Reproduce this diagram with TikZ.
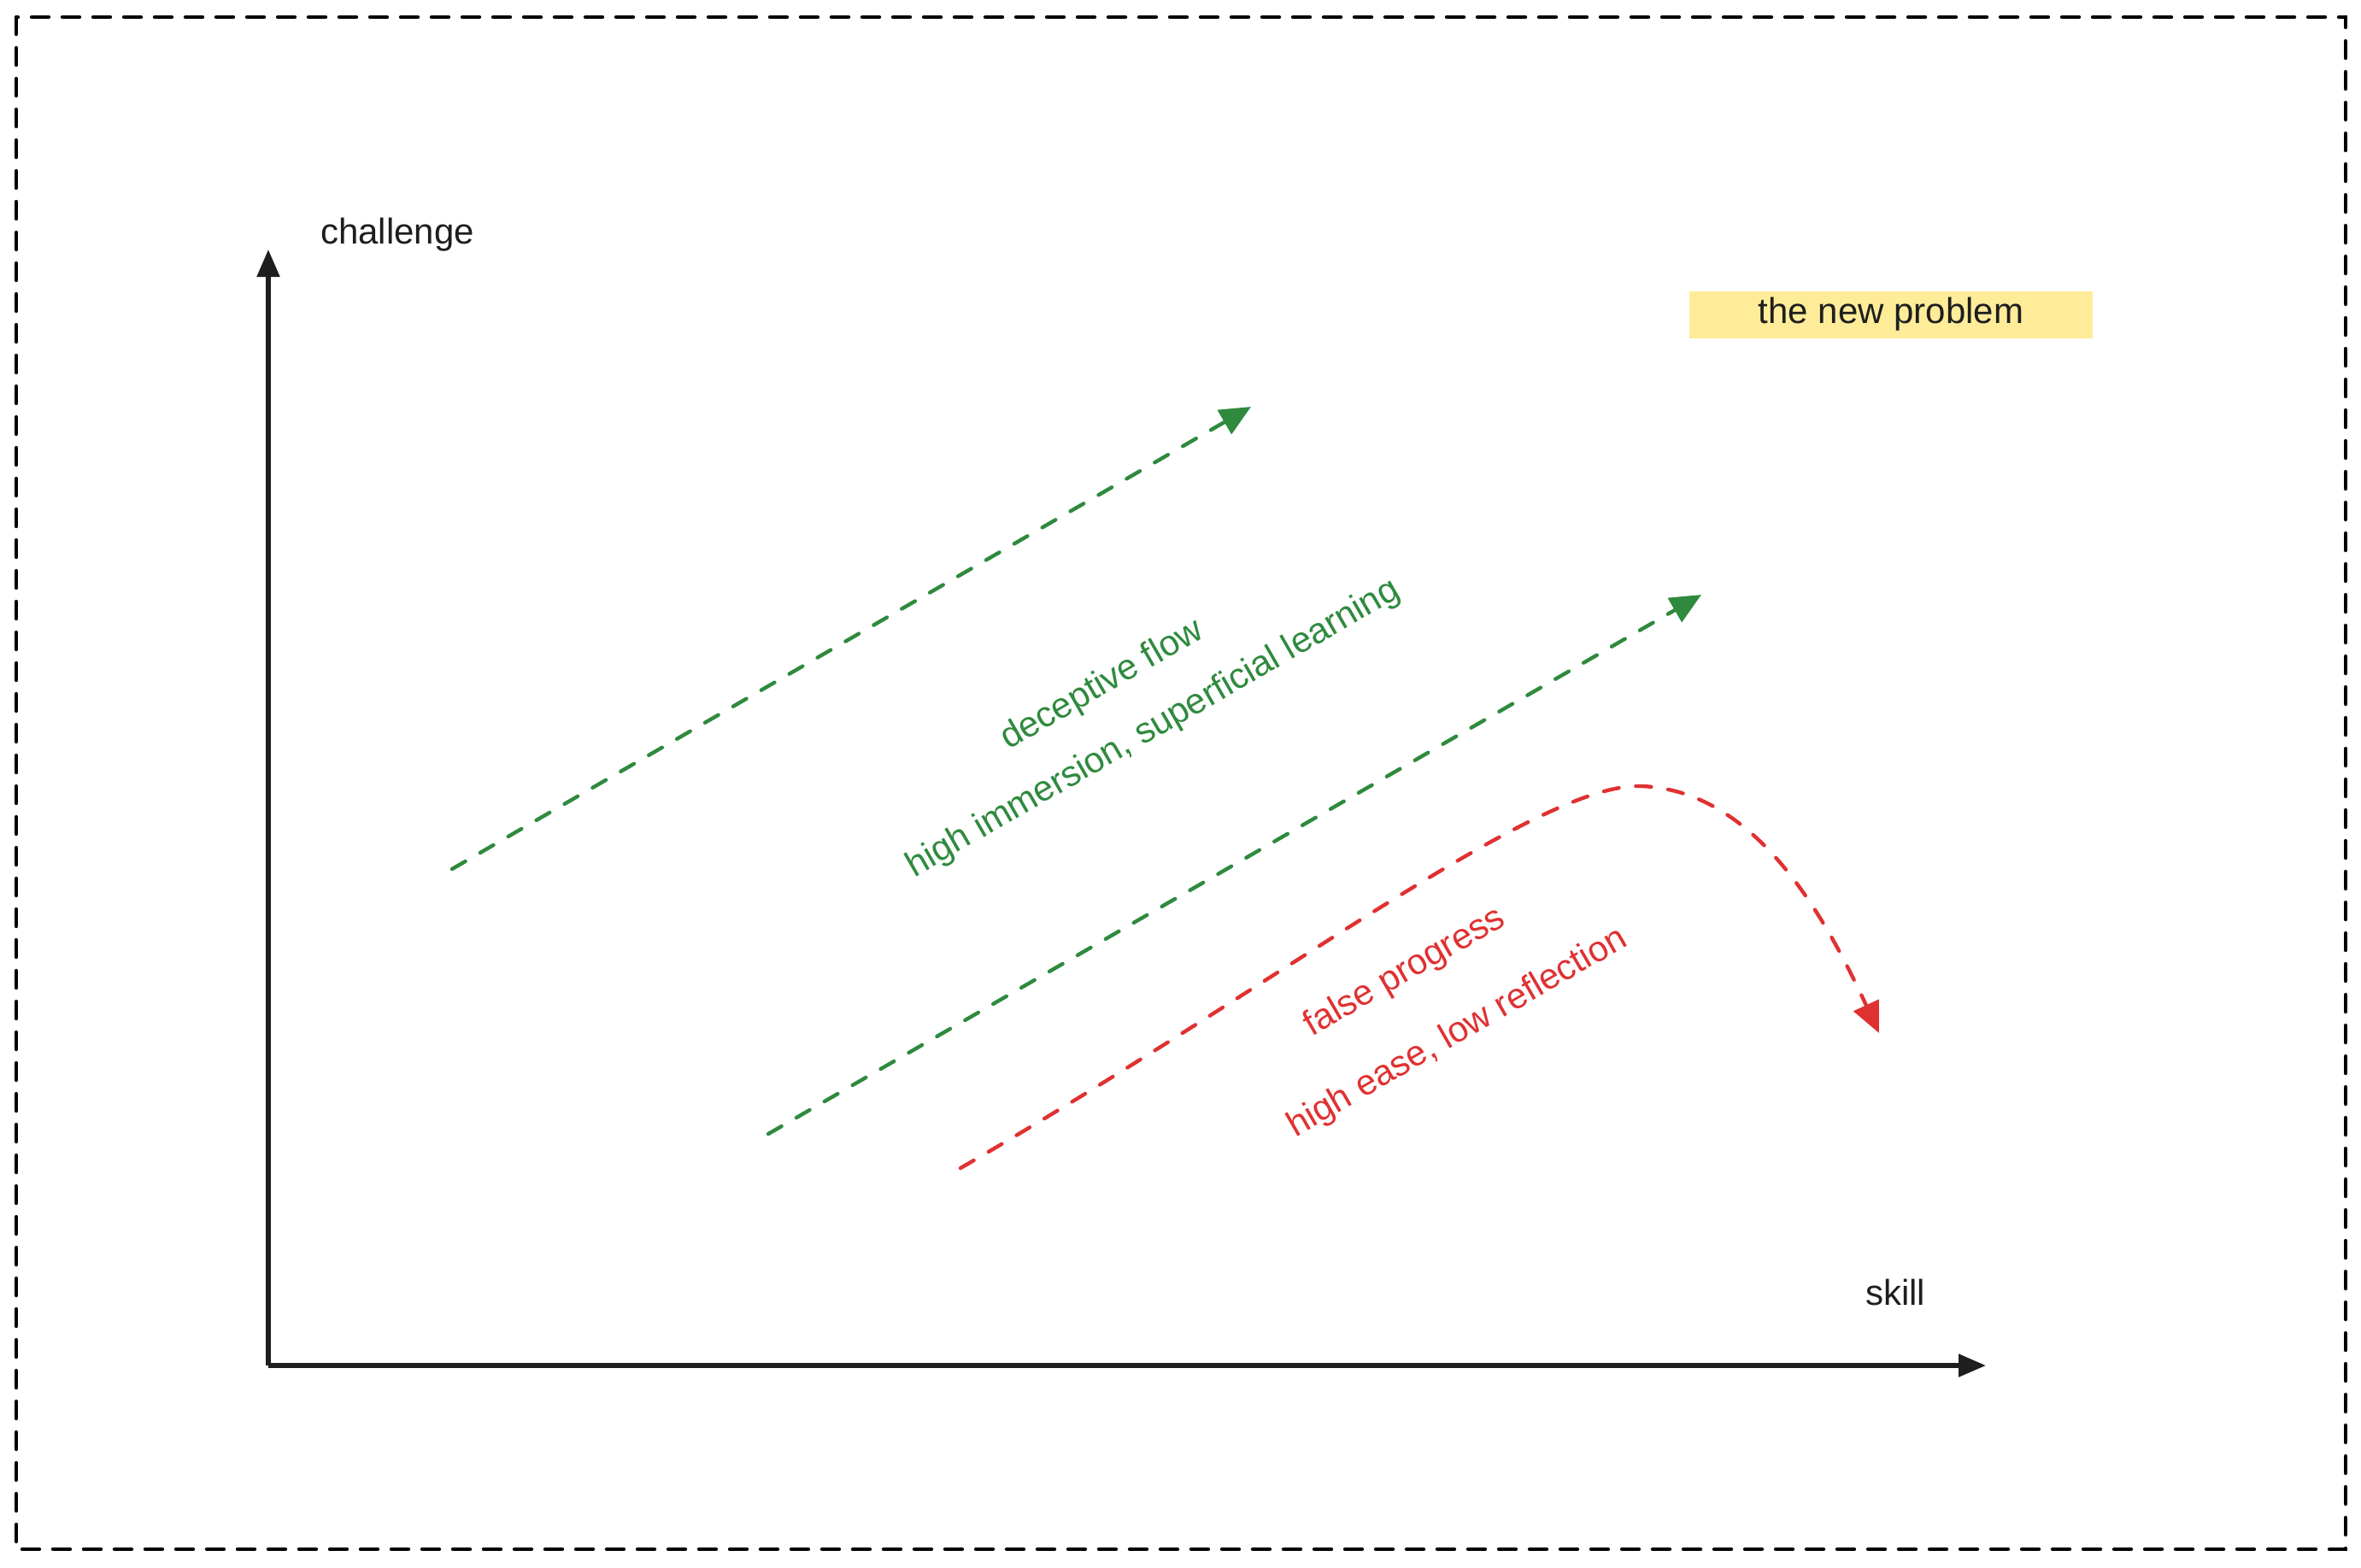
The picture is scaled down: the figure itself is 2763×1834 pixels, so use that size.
\documentclass[tikz,border=0pt]{standalone}
\usepackage{fontspec}
\setmainfont{Liberation Sans}
\usetikzlibrary{arrows.meta}
\definecolor{inkblack}{HTML}{1E1E1E}
\definecolor{inkgreen}{HTML}{2F8A3E}
\definecolor{inkred}{HTML}{E03131}
\definecolor{noteyellow}{HTML}{FFEC99}
\tikzset{
  frameline/.style={draw=black, line width=1.1pt, line cap=round, dash pattern=on 5pt off 4pt},
  axisline/.style={draw=inkblack, line width=1.3pt, -{Triangle[length=8pt,width=6.5pt]}},
  greenflow/.style={draw=inkgreen, line width=1.1pt, line cap=round, dash pattern=on 4.5pt off 5pt, -{Triangle[length=9pt,width=8pt]}},
  redflow/.style={draw=inkred, line width=1.1pt, line cap=round, dash pattern=on 4.5pt off 5pt, -{Triangle[length=9pt,width=8pt]}},
  lbl/.style={inner sep=0pt, font=\fontsize{10.5}{12}\selectfont},
}
\begin{document}
\begin{tikzpicture}[x=0.25pt,y=-0.25pt]
\useasboundingbox (0,0) rectangle (2763,1834);
% outer frame
\coordinate (f1) at (19,20);
\coordinate (f2) at (2745,1813);
\draw[frameline] (f1) rectangle (f2);
% axes
\coordinate (origin) at (314,1598);
\coordinate (ytop) at (314,292);
\coordinate (xend) at (2324,1598);
\draw[axisline] (origin) -- (ytop);
\draw[axisline] (origin) -- (xend);
\node[lbl, text=inkblack] (ylab) at (465,275) {challenge};
\node[lbl, text=inkblack] (xlab) at (2218,1512) {skill};
% note
\node[lbl, text=inkblack, fill=noteyellow, minimum width=118pt, minimum height=13.75pt] (note) at (2213,368) {the new problem};
% green arrows
\coordinate (g1s) at (529,1017);
\coordinate (g1e) at (1464,476);
\coordinate (g2s) at (899,1327);
\coordinate (g2e) at (1991,696);
\draw[greenflow] (g1s) -- (g1e);
\draw[greenflow] (g2s) -- (g2e);
\node[lbl, text=inkgreen, rotate=30] (df) at (1290,802) {deceptive flow};
\node[lbl, text=inkgreen, rotate=30] (hi) at (1350,853) {high immersion, superficial learning};
% red curve
\coordinate (rs) at (1124,1367);
\coordinate (rp) at (1921,920);
\coordinate (re) at (2199,1209);
\draw[redflow] (rs) .. controls (1500,1150) and (1800,915) .. (rp) .. controls (2050,925) and (2130,1060) .. (re);
\node[lbl, text=inkred, rotate=30] (fp) at (1644,1138) {false progress};
\node[lbl, text=inkred, rotate=30] (he) at (1706,1209) {high ease, low reflection};
\end{tikzpicture}
\end{document}
